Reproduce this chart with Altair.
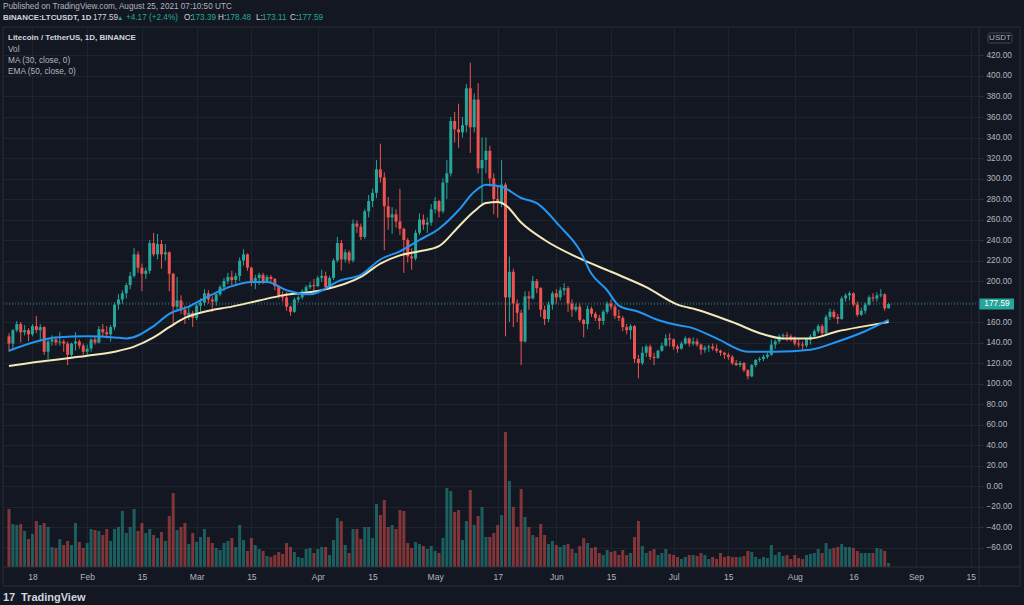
import altair as alt
import pandas as pd

FONT = "'Liberation Sans', Arial, sans-serif"
BG = "#131722"
UP = "#26a69a"
DOWN = "#ef5350"
TEXT = "#b2b5be"
BRIGHT = "#d1d4dc"
BORDER = "#2a2e39"
GRID = "#1f2330"
MA_COLOR = "#2196f3"
EMA_COLOR = "#f3e9b8"

# ---------------- data (LTC/USDT daily) ----------------
start_date = "2021-01-12"
first_open = 146.0

closes = [
    # Jan 12-31
    139, 152, 158, 150, 152, 148, 156, 152, 155, 131, 141, 143, 140, 141, 139, 128, 139, 141, 137, 131,
    # Feb
    134, 143, 140, 153, 150, 148, 155, 177, 182, 188, 196, 205, 226, 213, 207, 210, 237, 226, 236, 226,
    228, 207, 175, 181, 172, 167, 169, 164,
    # Mar
    176, 179, 188, 182, 180, 187, 194, 200, 204, 201, 205, 220, 226, 213, 200, 203, 206, 200, 204, 202,
    195, 186, 184, 175, 170, 182, 184, 190, 194, 196, 195,
    # Apr
    203, 205, 194, 203, 220, 237, 221, 228, 220, 256, 253, 243, 268, 278, 286, 309, 301, 273, 262, 265,
    258, 251, 240, 224, 222, 247, 260, 255, 257, 270,
    # May
    278, 268, 296, 305, 356, 348, 345, 352, 388, 350, 377, 310, 318, 327, 300, 280, 276, 294, 184, 209,
    178, 169, 141, 185, 183, 200, 193, 172, 163, 177, 188,
    # Jun
    184, 191, 193, 178, 172, 175, 162, 158, 173, 168, 164, 161, 170, 178, 175, 166, 164, 155, 152, 156,
    124, 120, 130, 136, 126, 125, 132, 137, 144, 143,
    # Jul
    136, 134, 139, 144, 139, 141, 138, 133, 135, 136, 134, 132, 130, 128, 126, 120, 118, 120, 113, 107,
    118, 123, 124, 126, 128, 138, 141, 146, 147, 146, 143,
    # Aug 1-25
    139, 138, 137, 143, 146, 151, 156, 149, 165, 170, 165, 163, 183, 186, 188, 177, 167, 171, 177, 184,
    183, 186, 187, 173.39, 177.59,
]
highs = [
    149, 153, 161, 160, 157, 154, 158, 166, 158, 156, 143, 147, 146, 150, 143, 141, 140, 150, 143, 139,
    138, 144, 146, 156, 158, 156, 157, 179, 187, 191, 198, 209, 232, 229, 217, 213, 240, 247, 246, 240,
    236, 229, 208, 204, 186, 176, 175, 171,
    178, 183, 192, 191, 185, 188, 196, 203, 208, 210, 208, 223, 231, 227, 214, 206, 208, 208, 206, 206,
    203, 196, 190, 189, 176, 184, 186, 192, 196, 199, 202,
    205, 211, 209, 205, 222, 243, 240, 231, 230, 260, 259, 256, 270, 284, 290, 318, 334, 306, 282, 272,
    270, 290, 252, 242, 232, 250, 266, 265, 262, 275,
    282, 279, 300, 318, 360, 365, 373, 360, 392, 413, 383, 393, 340, 340, 332, 305, 292, 318, 296, 224,
    212, 182, 172, 190, 190, 205, 202, 194, 176, 180, 190,
    192, 194, 198, 195, 182, 178, 178, 163, 176, 175, 170, 167, 172, 180, 182, 177, 172, 166, 158, 158,
    157, 128, 136, 138, 138, 130, 133, 140, 148, 149,
    144, 138, 141, 146, 145, 145, 144, 139, 137, 138, 139, 138, 133, 131, 130, 128, 123, 122, 121, 114,
    119, 124, 126, 128, 130, 143, 143, 148, 149, 150, 148,
    146, 143, 141, 144, 148, 153, 158, 158, 167, 173, 172, 168, 185, 188, 190, 189, 180, 174, 179, 186,
    188, 189, 192, 188, 178.48,
]
lows = [
    131, 134, 150, 140, 147, 141, 146, 149, 141, 128, 124, 137, 137, 137, 131, 118, 126, 132, 134, 128,
    128, 131, 138, 139, 146, 144, 141, 152, 172, 178, 183, 192, 203, 208, 190, 202, 207, 224, 221, 212,
    220, 190, 158, 170, 168, 158, 162, 155,
    162, 170, 176, 178, 170, 176, 185, 190, 197, 196, 195, 200, 215, 210, 195, 192, 196, 197, 198, 199,
    191, 183, 180, 171, 166, 169, 179, 182, 187, 192, 190,
    194, 199, 192, 192, 201, 218, 210, 218, 217, 218, 247, 240, 241, 262, 272, 281, 296, 230, 250, 246,
    252, 245, 208, 218, 211, 220, 245, 250, 247, 254,
    266, 262, 266, 280, 302, 335, 330, 340, 345, 325, 345, 305, 275, 305, 292, 265, 262, 272, 146, 160,
    155, 160, 118, 140, 172, 182, 188, 165, 157, 160, 172,
    178, 181, 186, 170, 165, 170, 160, 145, 153, 165, 161, 153, 157, 168, 172, 163, 161, 151, 148, 143,
    120, 105, 118, 126, 123, 118, 124, 131, 136, 136,
    133, 130, 133, 138, 136, 137, 136, 128, 130, 131, 132, 130, 127, 124, 123, 118, 117, 116, 111, 104,
    106, 116, 121, 122, 124, 127, 134, 139, 143, 141, 141,
    137, 135, 133, 135, 138, 144, 149, 146, 147, 162, 163, 158, 162, 180, 181, 175, 165, 166, 168, 176,
    180, 180, 184, 171, 173.11,
]
volumes = [
    58, 43, 42, 43, 36, 28, 33, 46, 42, 44, 40, 20, 19, 28, 22, 26, 22, 44, 25, 19,
    24, 38, 37, 36, 32, 38, 26, 38, 40, 56, 34, 40, 58, 36, 44, 34, 38, 32, 29, 35,
    26, 51, 74, 37, 40, 44, 23, 34, 25, 30, 38, 30, 24, 19, 17, 24, 26, 29, 20, 42,
    27, 16, 29, 22, 18, 16, 11, 10, 12, 15, 13, 24, 20, 15, 10, 9, 18, 19, 14, 18,
    20, 20, 12, 27, 49, 46, 22, 14, 38, 38, 28, 40, 40, 29, 63, 52, 67, 40, 42, 38,
    57, 56, 24, 19, 25, 23, 21, 18, 21, 16, 14, 29, 79, 76, 55, 57, 27, 46, 77, 42,
    51, 60, 30, 30, 34, 42, 52, 135, 86, 60, 40, 78, 50, 40, 32, 30, 43, 32, 23, 26,
    22, 20, 22, 23, 18, 14, 21, 29, 24, 19, 20, 14, 12, 17, 15, 16, 12, 17, 12, 14,
    30, 46, 21, 14, 16, 18, 12, 14, 18, 13, 12, 10, 8, 10, 12, 12, 11, 14, 12, 8,
    10, 8, 14, 10, 11, 10, 10, 10, 11, 16, 15, 10, 8, 10, 9, 22, 12, 15, 11, 12,
    8, 12, 9, 8, 12, 13, 14, 18, 14, 24, 18, 19, 20, 23, 20, 20, 19, 16, 14, 14,
    14, 14, 19, 18, 16, 4,
]

# moving averages (day offset from start_date, value)
ma30_days = [0, 7, 12, 20, 27, 30, 37, 41, 46, 50, 57, 62, 66, 71, 77, 85, 90, 95, 100, 105,
             110, 115, 119, 122, 126, 131, 135, 141, 146, 149, 153, 156, 161, 166, 171, 174,
             181, 189, 196, 205, 212, 219, 225]
ma30_vals = [132, 141, 145, 146, 145, 144, 156, 168, 175, 183, 195, 199, 199, 191, 187, 201, 206,
             221, 229, 240, 251, 269, 287, 294, 292, 281, 276, 253, 230, 207, 191, 176, 170, 162,
             157, 155, 144, 131, 131, 133, 141, 151, 162]
ema50_days = [0, 7, 20, 27, 32, 37, 41, 45, 50, 57, 64, 70, 80, 90, 95, 100, 105, 110, 115, 119,
              122, 125, 127, 131, 137, 146, 154, 163, 171, 176, 185, 193, 198, 205, 212, 219, 225]
ema50_vals = [117, 121, 127, 131, 136, 145, 155, 164, 170, 175, 181, 186, 191, 204, 217, 225, 229,
              234, 253, 268, 276, 277, 274, 257, 240, 222, 209, 194, 177, 172, 160, 148, 144, 144,
              151, 156, 160]

price_ticks = [-60, -40, -20, 0, 20, 40, 60, 80, 100, 120, 140, 160, 180, 200, 220, 240, 260,
               280, 300, 320, 340, 360, 380, 400, 420]
date_ticks = [(1, 18), (2, 1), (2, 15), (3, 1), (3, 15), (4, 1), (4, 15), (5, 1), (5, 17),
              (6, 1), (6, 15), (7, 1), (7, 15), (8, 1), (8, 16), (9, 1), (9, 15)]

# ---------------- tables ----------------
dates = pd.date_range(start_date, periods=len(closes), freq="D")
opens = [first_open] + closes[:-1]
df = pd.DataFrame({
    "date": dates.strftime("%Y-%m-%d"),
    "open": opens,
    "high": [max(h, o, c) for h, o, c in zip(highs, opens, closes)],
    "low": [min(l, o, c) for l, o, c in zip(lows, opens, closes)],
    "close": closes,
    "volume": volumes,
})
df["dir"] = ["up" if c >= o else "down" for o, c in zip(opens, closes)]

t0 = pd.Timestamp(start_date)
ma_df = pd.DataFrame({"date": [(t0 + pd.Timedelta(days=d)).strftime("%Y-%m-%d") for d in ma30_days],
                      "v": ma30_vals})
ema_df = pd.DataFrame({"date": [(t0 + pd.Timedelta(days=d)).strftime("%Y-%m-%d") for d in ema50_days],
                       "v": ema50_vals})
last_close = closes[-1]

# ---------------- encodings ----------------
x_axis = alt.Axis(
    values=[alt.DateTime(year=2021, month=m, date=d, utc=True) for m, d in date_ticks],
    labelExpr="utcdate(datum.value) == 1 ? utcFormat(datum.value, '%b') : '' + utcdate(datum.value)",
    grid=True, gridColor=GRID, ticks=False, domain=False, labelPadding=5,
    labelColor=TEXT, labelFontSize=8.5, labelFont=FONT, title=None,
)
x_scale = alt.Scale(type="utc", domain=[
    alt.DateTime(year=2021, month=1, date=11, hours=17, minutes=56, utc=True),
    alt.DateTime(year=2021, month=9, date=15, hours=20, minutes=10, utc=True),
])
X = alt.X("date:T", scale=x_scale, axis=x_axis, title=None)

price_scale = alt.Scale(domain=[-79.0, 447.8], nice=False, zero=False)
price_axis = alt.Axis(orient="right", values=price_ticks,
                      labelExpr="datum.value == 180 ? '' : format(datum.value, '.2f')",
                      grid=True, gridColor=GRID,
                      domain=False, tickSize=4, tickColor=BORDER, labelPadding=3, labelColor=TEXT,
                      labelFontSize=8.3, labelFont=FONT, title=None)


def PY(field):
    return alt.Y(field, scale=price_scale, axis=price_axis, title=None)


color = alt.Color("dir:N", scale=alt.Scale(domain=["up", "down"], range=[UP, DOWN]), legend=None)

vol = alt.Chart(df).mark_bar(size=3, opacity=0.5).encode(
    x=X,
    y=alt.Y("volume:Q", scale=alt.Scale(domain=[0, 540], nice=False), axis=None),
    color=color,
)

price_line = alt.Chart(pd.DataFrame({"p": [last_close]})).mark_rule(
    strokeDash=[1, 2], color=UP, strokeWidth=1, opacity=0.9
).encode(y=PY("p:Q"))

wicks = alt.Chart(df).mark_rule(strokeWidth=1).encode(x=X, y=PY("low:Q"), y2="high:Q", color=color)
bodies = alt.Chart(df).mark_bar(size=3).encode(x=X, y=PY("open:Q"), y2="close:Q", color=color)

ema_line = alt.Chart(ema_df).mark_line(color=EMA_COLOR, strokeWidth=2, interpolate="monotone").encode(
    x=X, y=PY("v:Q"))
ma_line = alt.Chart(ma_df).mark_line(color=MA_COLOR, strokeWidth=2, interpolate="monotone").encode(
    x=X, y=PY("v:Q"))

lbl_df = pd.DataFrame({"p": [last_close], "t": [f"{last_close:.2f}"]})
price_box = alt.Chart(lbl_df).mark_rect(color=UP, yOffset=-5.5, y2Offset=5.5).encode(
    x=alt.value(976), x2=alt.value(1011), y=PY("p:Q"), y2="p:Q")
price_txt = alt.Chart(lbl_df).mark_text(color="#ffffff", fontSize=8.3, font=FONT, align="center",
                                        baseline="middle").encode(
    x=alt.value(994), y=PY("p:Q"), text="t:N")

price_group = alt.layer(price_line, wicks, bodies, ema_line, ma_line, price_box, price_txt)


def label(text, x, y, size=8.3, col=TEXT, weight="normal", align="left"):
    return alt.Chart(pd.DataFrame({"t": [text]})).mark_text(
        align=align, baseline="middle", fontSize=size, color=col, fontWeight=weight, font=FONT
    ).encode(x=alt.value(x), y=alt.value(y), text="t:N")


def line(x1, x2, y1, y2, col=BORDER):
    return alt.Chart(pd.DataFrame({"k": [0]})).mark_rule(color=col, strokeWidth=1).encode(
        x=alt.value(x1), x2=alt.value(x2), y=alt.value(y1), y2=alt.value(y2))


annotations = [
    line(0, 1017, 0, 0), line(0, 1017, 559, 559), line(0, 0, 0, 559), line(1017, 1017, 0, 559),
    line(0, 1017, 540, 540), line(976, 976, 0, 559),
    label("Published on TradingView.com, August 25, 2021 07:10:50 UTC", 0, -20, size=8.2),
    label("BINANCE:LTCUSDT, 1D", 0, -9, size=7.9, col=BRIGHT, weight="bold"),
    label("177.59", 90, -9, size=8.2, col=BRIGHT),
    label("\u25b2", 114, -9, size=6.5, col=UP),
    label("+4.17 (+2.4%)", 123, -9, size=8.2, col=UP),
    label("O:", 181, -9, size=8.2, col=BRIGHT), label("173.39", 188, -9, size=8.2, col=UP),
    label("H:", 215, -9, size=8.2, col=BRIGHT), label("178.48", 223, -9, size=8.2, col=UP),
    label("L:", 253, -9, size=8.2, col=BRIGHT), label("173.11", 259, -9, size=8.2, col=UP),
    label("C:", 287, -9, size=8.2, col=BRIGHT), label("177.59", 295, -9, size=8.2, col=UP),
    label("Litecoin / TetherUS, 1D, BINANCE", 5, 11, size=8, col=BRIGHT, weight="bold"),
    label("Vol", 5, 23, size=8.3),
    label("MA (30, close, 0)", 5, 34, size=8.3),
    label("EMA (50, close, 0)", 5, 45, size=8.3),
    label("17", 0, 571, size=11, col=BRIGHT, weight="bold"),
    label("TradingView", 18, 571, size=11, col=BRIGHT, weight="bold"),
]

usdt_box = alt.Chart(pd.DataFrame({"k": [0]})).mark_rect(
    fill=BG, stroke="#434651", strokeWidth=1, cornerRadius=2
).encode(x=alt.value(985), x2=alt.value(1009), y=alt.value(6), y2=alt.value(16))
usdt_txt = label("USDT", 997, 11, size=8, align="center")

chart = alt.layer(vol, price_group, *annotations, usdt_box, usdt_txt).resolve_scale(
    y="independent"
).properties(
    width=976, height=540,
    padding={"left": 3, "top": 27, "right": 45, "bottom": 38},
    autosize=alt.AutoSizeParams(type="none"),
    background=BG,
).configure_view(stroke=None, fill=BG)

chart.save("out.html", embed_options={"renderer": "svg", "actions": False})
